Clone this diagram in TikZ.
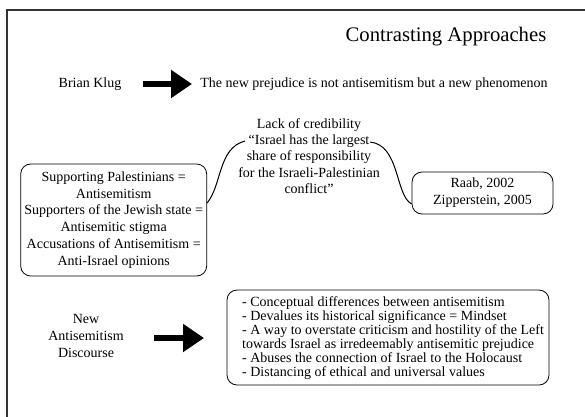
\documentclass[tikz,border=0pt]{standalone}
\usepackage{fontspec}
\setmainfont{Liberation Serif}
\usetikzlibrary{arrows.meta}
\begin{document}
\begin{tikzpicture}[x=1pt,y=-1pt,
  txt/.style={font=\fontsize{14}{16.8}\selectfont, align=center, inner sep=0pt},
  roundbox/.style={draw, line width=0.8pt, rounded corners=10pt, align=center, inner sep=0pt},
  fatarrow/.style={line width=6.5pt, -{Triangle[length=21pt,width=27pt]}},
  link/.style={line width=1pt}]
\useasboundingbox (0,0) rectangle (585,416);
% frame
\draw[line width=1.6pt, draw=black!80] (7,417) -- (7,10) -- (586,10);
% title
\node[txt, font=\fontsize{20.7}{24}\selectfont] (title) at (446,37) {Contrasting Approaches};
% first row
\node[txt] (klug) at (90,84) {Brian Klug};
\node[txt] (prej) at (374,84) {The new prejudice is not antisemitism but a new phenomenon};
\coordinate (a1s) at (143,84);
\coordinate (a1e) at (192,84);
\draw[fatarrow] (a1s) -- (a1e);
% middle text
\node[txt, font=\fontsize{14}{16.3}\selectfont] (cred) at (309,156) {Lack of credibility\\``Israel has the largest\\share of responsibility\\for the Israeli-Palestinian\\conflict''};
% left box
\node[roundbox, txt, draw, minimum width=186pt, minimum height=112pt] (left) at (113.7,220)
  {Supporting Palestinians =\\Antisemitism\\Supporters of the Jewish state =\\Antisemitic stigma\\Accusations of Antisemitism =\\Anti-Israel opinions};
% right box
\node[roundbox, txt, draw, minimum width=141pt, minimum height=42pt] (right) at (482.5,193)
  {Raab, 2002\\Zipperstein, 2005};
% connectors
\coordinate (cl) at (245,141);
\coordinate (cr) at (370,142);
\draw[link] (left.east |- 0,203) .. controls (222,185) and (218,148) .. (cl);
\draw[link] (cr) .. controls (400,145) and (395,195) .. (right.west |- 0,204);
% bottom row
\node[txt] (nad) at (86,336) {New\\Antisemitism\\Discourse};
\coordinate (a2s) at (154,338);
\coordinate (a2e) at (204,338);
\draw[fatarrow] (a2s) -- (a2e);
\node[roundbox, minimum width=322pt, minimum height=95pt] (list) at (388,337.5) {};
\node[txt, align=left, font=\fontsize{14}{14}\selectfont, anchor=north west] (items) at (242,296)
  {- Conceptual differences between antisemitism\\
   - Devalues its historical significance = Mindset\\
   - A way to overstate criticism and hostility of the Left\\
   towards Israel as irredeemably antisemitic prejudice\\
   - Abuses the connection of Israel to the Holocaust\\
   - Distancing of ethical and universal values};
\end{tikzpicture}
\end{document}
